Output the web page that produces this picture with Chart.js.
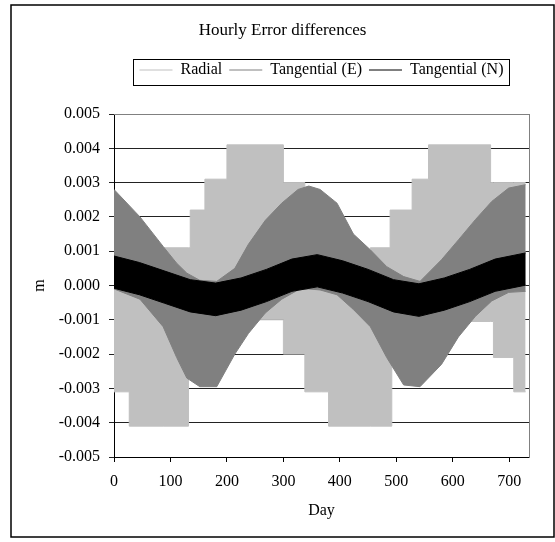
<!DOCTYPE html>
<html>
<head>
<meta charset="utf-8">
<script src="https://cdn.jsdelivr.net/npm/chart.js@4.4.0/dist/chart.umd.min.js"></script>
<style>
  body { margin: 0; background: #fff; }
</style>
</head>
<body>
<canvas id="myChart" width="555" height="542"></canvas>
<script>
// hourly series are too dense to read point by point, so each one is kept as
// its upper / lower envelope (metres) at a set of days

// Radial: stepped envelope, each value holds from its day to the next one
const radialDays  = [0, 27, 87, 132, 135, 161, 200, 300, 338, 367, 380, 454, 489, 492, 528, 557, 667, 672, 708, 729];
const radialUpper = [0.0010, 0.0010, 0.0011, 0.0011, 0.0022, 0.0031, 0.0041, 0.0030, 0.0020, 0.0010,
                     0.0010, 0.0011, 0.0022, 0.0022, 0.0031, 0.0041, 0.0030, 0.0030, 0.0030, 0.0030];
const radialLower = [-0.0031, -0.0041, -0.0041, -0.0026, -0.0026, -0.0021, -0.0010, -0.0020, -0.0031, -0.0031,
                     -0.0041, -0.0041, -0.0041, -0.0021, -0.0021, -0.00105, -0.00105, -0.0021, -0.0031, -0.0031];

// Tangential (E)
const tanEDays  = [0, 46, 87, 111, 129, 152, 182, 214, 238, 268, 297, 326, 345, 365, 395, 424, 454, 483, 513, 542, 580, 610, 640, 669, 699, 729];
const tanEUpper = [0.0028, 0.0020, 0.00114, 0.00065, 0.00036, 0.00015, 0.00012, 0.0005, 0.0012, 0.0019, 0.0024, 0.0028, 0.0029,
                   0.0028, 0.0024, 0.0015, 0.00104, 0.00055, 0.00026, 0.00012, 0.00075, 0.00133, 0.00192, 0.00245, 0.00284, 0.00294];
const tanELower = [-0.0001, -0.0004, -0.0012, -0.0021, -0.0027, -0.00295, -0.00295, -0.0020, -0.0014, -0.0008, -0.0004, -0.00013, -0.0001,
                   -0.00013, -0.00027, -0.0007, -0.0012, -0.0021, -0.0029, -0.00295, -0.0023, -0.0015, -0.0009, -0.00045, -0.0002, -0.00017];

// Tangential (N)
const tanNDays  = [0, 45, 90, 135, 180, 225, 270, 315, 360, 405, 450, 495, 540, 585, 630, 675, 729];
const tanNUpper = [0.00086, 0.00067, 0.00042, 0.00017, 0.00007, 0.00022, 0.00047, 0.00077, 0.0009,
                   0.00072, 0.00047, 0.00017, 0.00005, 0.00022, 0.00047, 0.00077, 0.00095];
const tanNLower = [-0.00008, -0.00027, -0.00052, -0.00077, -0.00088, -0.00072, -0.00047, -0.00017, -0.00004,
                   -0.00022, -0.00047, -0.00077, -0.0009, -0.00072, -0.00047, -0.00017, 0.00001];

const seriesNames = ['Radial', 'Tangential (E)', 'Tangential (N)'];
const seriesColors = ['#c0c0c0', '#808080', '#000000'];

const xMin = 0, xMax = 735, xStep = 100;
const yMin = -0.005, yMax = 0.005, yStep = 0.001;

const toPoints = (days, vals) => days.map((d, i) => ({ x: d, y: vals[i] }));

function band(i, days, upper, lower, stepped) {
    const common = {
        borderColor: seriesColors[i],
        backgroundColor: seriesColors[i],
        borderWidth: 1,
        pointRadius: 0,
        tension: 0,
        stepped: stepped,
        order: 3 - i,   // later series drawn on top
    };
    return [
        Object.assign({ label: seriesNames[i], data: toPoints(days, upper), fill: false }, common),
        Object.assign({ label: seriesNames[i] + ' low', data: toPoints(days, lower), fill: '-1', inLegend: false }, common),
    ];
}

const datasets = [].concat(
    band(0, radialDays, radialUpper, radialLower, true),
    band(1, tanEDays, tanEUpper, tanELower, false),
    band(2, tanNDays, tanNUpper, tanNLower, false)
);

Chart.defaults.font.family = "'Liberation Serif', 'Times New Roman', serif";
Chart.defaults.font.size = 16;
Chart.defaults.color = '#000';

// white page, outer frame and the box round the legend
const framePlugin = {
    id: 'frame',
    beforeDraw(chart) {
        const ctx = chart.ctx;
        ctx.save();
        ctx.fillStyle = '#fff';
        ctx.fillRect(0, 0, chart.width, chart.height);
        ctx.restore();
    },
    afterDraw(chart) {
        const ctx = chart.ctx;
        ctx.save();
        ctx.strokeStyle = '#000';
        ctx.lineWidth = 1.5;
        ctx.strokeRect(11, 5, chart.width - 12, chart.height - 10);

        const lg = chart.legend;
        const hb = lg.legendHitBoxes;
        const first = hb.reduce((a, b) => (b.left < a.left ? b : a));
        const last = hb.reduce((a, b) => (b.left > a.left ? b : a));
        const l = Math.round(first.left - 7) + 0.5;
        const r = Math.round(last.left + last.width + 5) + 0.5;
        ctx.lineWidth = 1;
        ctx.strokeRect(l, Math.round(lg.top + 4) + 0.5, r - l, 26);
        ctx.restore();
    }
};

new Chart(document.getElementById('myChart'), {
    type: 'line',
    data: { datasets: datasets },
    options: {
        responsive: false,
        animation: false,
        layout: { padding: { left: 11, right: 1, top: 0, bottom: 5 } },
        plugins: {
            title: {
                display: true,
                text: 'Hourly Error differences',
                font: { size: 17, weight: 'normal' },
                padding: { top: 20.7, bottom: 13.9 }
            },
            legend: {
                fullSize: false,
                labels: {
                    usePointStyle: true,
                    pointStyle: 'line',
                    pointStyleWidth: 33,
                    padding: 7,
                    font: { size: 16 },
                    filter: (item, data) => data.datasets[item.datasetIndex].inLegend !== false,
                    sort: (a, b) => a.datasetIndex - b.datasetIndex
                }
            },
            tooltip: { enabled: false }
        },
        scales: {
            x: {
                type: 'linear',
                min: xMin,
                max: xMax,
                ticks: { stepSize: xStep, includeBounds: false, padding: 10 },
                grid: { drawOnChartArea: false, color: '#000', tickLength: 5 },
                border: { color: '#000', width: 1 },
                title: { display: true, text: 'Day', padding: { top: 0, bottom: 16.7 } },
                afterFit: (s) => { s.height = 80; }
            },
            y: {
                min: yMin,
                max: yMax,
                ticks: {
                    stepSize: yStep,
                    padding: 9,
                    callback: (v) => (Math.abs(v) < 1e-9 ? 0 : v).toFixed(3)
                },
                grid: { color: '#222', tickLength: 5 },
                border: { color: '#000', width: 1 },
                title: { display: true, text: 'm', padding: { top: 19.4, bottom: 0 } },
                afterFit: (s) => { s.width = 103; }
            },
            // empty axes that only give the plot area its grey top and right edges
            xTop: {
                type: 'linear',
                position: 'top',
                display: true,
                grid: { display: false },
                ticks: { display: false },
                border: { color: '#808080' },
                afterFit: (s) => { s.height = 26; }
            },
            yRight: {
                position: 'right',
                display: true,
                grid: { display: false },
                ticks: { display: false },
                border: { color: '#808080' },
                afterFit: (s) => { s.width = 25; }
            }
        }
    },
    plugins: [framePlugin]
});
</script>
</body>
</html>
